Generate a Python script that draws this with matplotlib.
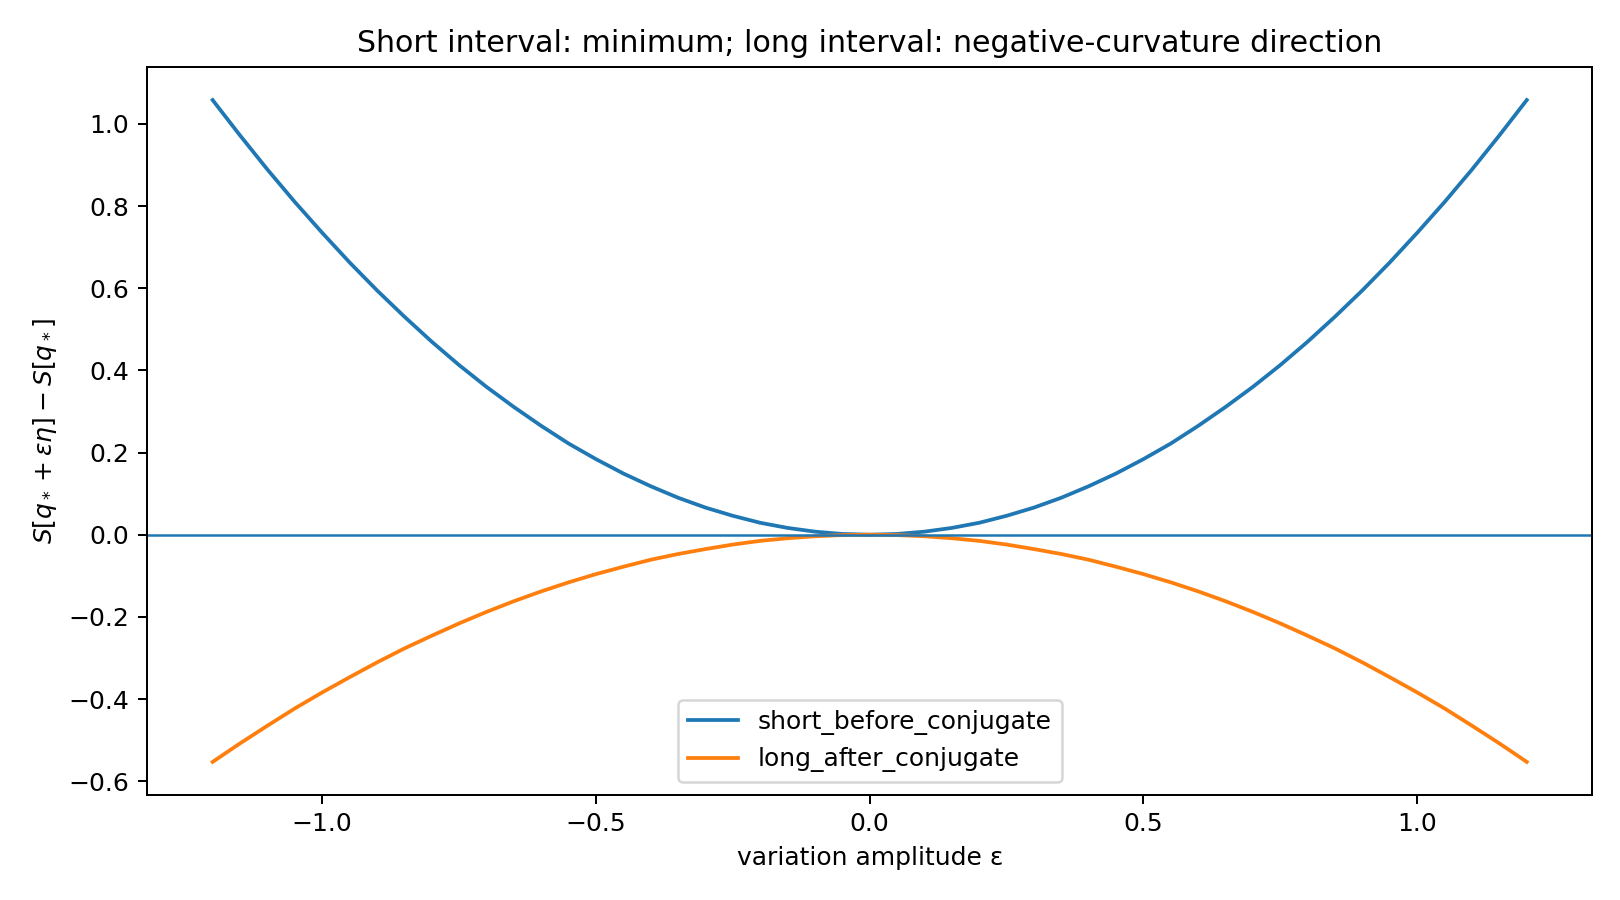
import numpy as np
import matplotlib.pyplot as plt

# variation amplitudes and action differences
eps = [-1.2, -1.15, -1.1, -1.05, -1.0, -0.95, -0.9, -0.85, -0.8, -0.75, -0.7,
       -0.65, -0.6, -0.55, -0.5, -0.45, -0.4, -0.35, -0.3, -0.25, -0.2, -0.15,
       -0.1, -0.05, 0.0, 0.05, 0.1, 0.15, 0.2, 0.25, 0.3, 0.35, 0.4, 0.45, 0.5,
       0.55, 0.6, 0.65, 0.7, 0.75, 0.8, 0.85, 0.9, 0.95, 1.0, 1.05, 1.1, 1.15,
       1.2]
short_before = [1.058, 0.972, 0.889, 0.810, 0.735, 0.663, 0.595, 0.531, 0.470,
                0.413, 0.360, 0.311, 0.265, 0.222, 0.184, 0.149, 0.118, 0.090,
                0.066, 0.046, 0.029, 0.0165, 0.0074, 0.0018, 0.0,
                0.0018, 0.0074, 0.0165, 0.029, 0.046, 0.066, 0.090, 0.118,
                0.149, 0.184, 0.222, 0.265, 0.311, 0.360, 0.413, 0.470, 0.531,
                0.595, 0.663, 0.735, 0.810, 0.889, 0.972, 1.058]
long_after = [-0.553, -0.508, -0.465, -0.423, -0.384, -0.347, -0.311, -0.277,
              -0.246, -0.216, -0.188, -0.162, -0.138, -0.116, -0.096, -0.078,
              -0.061, -0.047, -0.035, -0.024, -0.015, -0.0086, -0.0038,
              -0.001, 0.0,
              -0.001, -0.0038, -0.0086, -0.015, -0.024, -0.035, -0.047,
              -0.061, -0.078, -0.096, -0.116, -0.138, -0.162, -0.188, -0.216,
              -0.246, -0.277, -0.311, -0.347, -0.384, -0.423, -0.465, -0.508,
              -0.553]

fig, ax = plt.subplots(figsize=(9, 5), dpi=180)
fig.subplots_adjust(left=0.0907, right=0.983, top=0.9256, bottom=0.1167)

ax.plot(eps, short_before, label="short_before_conjugate", lw=1.5)
ax.plot(eps, long_after, label="long_after_conjugate", lw=1.5)
ax.axhline(0, lw=1)

ax.set_title("Short interval: minimum; long interval: negative-curvature direction")
ax.set_xlabel("variation amplitude ε")
ax.set_ylabel(r"$S[q_* + \epsilon\eta] - S[q_*]$")
ax.legend(loc="lower center")

fig.savefig("out.png")
